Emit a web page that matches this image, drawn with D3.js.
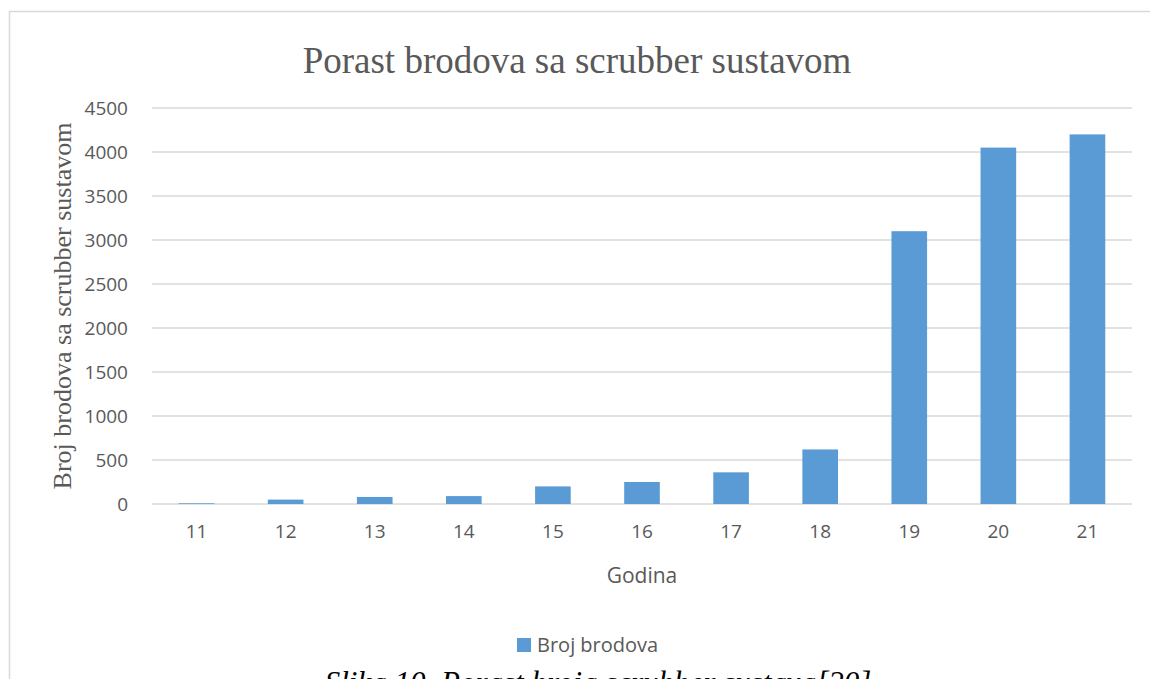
<!DOCTYPE html>
<html>
<head>
<meta charset="utf-8">
<script src="https://cdn.jsdelivr.net/npm/d3@7"></script>
<style>
  body { margin: 0; background: #fff; }
  svg { display: block; }
</style>
</head>
<body>
<svg id="chart"></svg>
<script>
// Data
const years = ["11", "12", "13", "14", "15", "16", "17", "18", "19", "20", "21"];
const ships = [8, 50, 80, 90, 200, 250, 360, 620, 3100, 4050, 4200];
const yTicks = [0, 500, 1000, 1500, 2000, 2500, 3000, 3500, 4000, 4500];

// Chart Dimensions
const width = 1150;
const height = 679;
const margin = { top: 108, right: 18, bottom: 175, left: 152 };

const svg = d3.select("#chart").attr("width", width).attr("height", height);

// Frame
svg.append("rect")
  .attr("x", 9.5).attr("y", 11.5)
  .attr("width", width + 10).attr("height", height + 10)
  .attr("fill", "none").attr("stroke", "#d9d9d9").attr("stroke-width", 1.5);

// Scales
const x = d3.scaleBand()
  .domain(years)
  .range([margin.left, width - margin.right])
  .paddingInner(0.6).paddingOuter(0.3);

const y = d3.scaleLinear()
  .domain([0, 4500])
  .range([height - margin.bottom, margin.top]);

// Gridlines
svg.append("g")
  .selectAll("line")
  .data(yTicks)
  .enter()
  .append("line")
  .attr("x1", margin.left).attr("x2", width - margin.right)
  .attr("y1", (d) => y(d)).attr("y2", (d) => y(d))
  .attr("stroke", "#d9d9d9").attr("stroke-width", 1.3);

// Y axis labels
const yAxis = svg.append("g")
  .attr("transform", `translate(${margin.left - 24},0)`)
  .call(d3.axisLeft(y).tickValues(yTicks).tickFormat(d3.format("d")).tickSize(0).tickPadding(0));
yAxis.select(".domain").remove();
yAxis.selectAll("text")
  .attr("fill", "#595959")
  .style("font-family", "'Open Sans', sans-serif")
  .style("font-size", "19px");

// Bars
svg.append("g")
  .selectAll("rect")
  .data(ships)
  .enter()
  .append("rect")
  .attr("x", (d, i) => x(years[i]))
  .attr("y", (d) => y(d))
  .attr("width", x.bandwidth())
  .attr("height", (d) => y(0) - y(d))
  .attr("fill", "#5b9bd5");

// X axis labels
const xAxis = svg.append("g")
  .attr("transform", `translate(0,${y(0) + 16})`)
  .call(d3.axisBottom(x).tickSize(0).tickPadding(4));
xAxis.select(".domain").remove();
xAxis.selectAll("text")
  .attr("fill", "#595959")
  .style("font-family", "'Open Sans', sans-serif")
  .style("font-size", "19px");

// Title
svg.append("text")
  .attr("x", 577).attr("y", 73)
  .attr("text-anchor", "middle")
  .attr("fill", "#595959")
  .style("font-family", "'Liberation Serif', serif")
  .style("font-size", "37px")
  .text("Porast brodova sa scrubber sustavom");

// Axis titles
svg.append("text")
  .attr("transform", `translate(71,${(y(0) + y(4500)) / 2}) rotate(-90)`)
  .attr("text-anchor", "middle")
  .attr("fill", "#595959")
  .style("font-family", "'Liberation Serif', serif")
  .style("font-size", "26px")
  .text("Broj brodova sa scrubber sustavom");

svg.append("text")
  .attr("x", (margin.left + width - margin.right) / 2).attr("y", 583)
  .attr("text-anchor", "middle")
  .attr("fill", "#595959")
  .style("font-family", "'Open Sans', sans-serif")
  .style("font-size", "21px")
  .text("Godina");

// Legend
const legend = svg.append("g").attr("transform", "translate(517,638)");
legend.append("rect").attr("width", 14).attr("height", 14).attr("fill", "#5b9bd5");
legend.append("text")
  .attr("x", 20).attr("y", 14)
  .attr("fill", "#595959")
  .style("font-family", "'Open Sans', sans-serif")
  .style("font-size", "20px")
  .text("Broj brodova");

// Caption
svg.append("text")
  .attr("x", 598).attr("y", 693)
  .attr("text-anchor", "middle")
  .attr("fill", "#000")
  .style("font-family", "'Liberation Serif', serif")
  .style("font-style", "italic")
  .style("font-size", "31px")
  .text("Slika 10. Porast broja scrubber sustava[20]");
</script>
</body>
</html>
